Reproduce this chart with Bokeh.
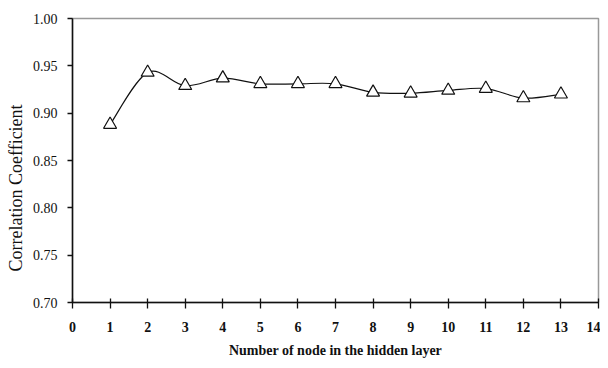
import numpy as np
from bokeh.plotting import figure
from bokeh.models import Range1d, FixedTicker, Title, NumeralTickFormatter
from bokeh.embed import file_html
from bokeh.resources import INLINE

nodes = [1, 2, 3, 4, 5, 6, 7, 8, 9, 10, 11, 12, 13]
corr = [0.888, 0.943, 0.929, 0.937, 0.931, 0.931, 0.931, 0.922, 0.921, 0.924, 0.926, 0.916, 0.920]
x_ticks = list(range(0, 15))
y_ticks = [0.70, 0.75, 0.80, 0.85, 0.90, 0.95, 1.00]

p = figure(width=600, height=360, output_backend="svg", toolbar_location=None,
           x_range=Range1d(0, 14), y_range=Range1d(0.70, 1.00),
           min_border_left=0, min_border_right=2, min_border_top=18, min_border_bottom=0)
p.background_fill_color = "white"
p.border_fill_color = "white"
p.outline_line_color = "#999999"
p.outline_line_width = 1.5
p.grid.visible = False

# smoothed curve (Bezier segments through the data points)
x = np.array(nodes, dtype=float)
y = np.array(corr, dtype=float)
n = len(x)
xp = np.concatenate([[x[0]], x, [x[-1]]])
yp = np.concatenate([[y[0]], y, [y[-1]]])
x0, y0, x1, y1, cx0, cy0, cx1, cy1 = [], [], [], [], [], [], [], []
for i in range(n - 1):
    j = i + 1
    x0.append(xp[j]); y0.append(yp[j])
    x1.append(xp[j + 1]); y1.append(yp[j + 1])
    cx0.append(xp[j] + (xp[j + 1] - xp[j - 1]) / 6)
    cy0.append(yp[j] + (yp[j + 1] - yp[j - 1]) / 6)
    cx1.append(xp[j + 1] - (xp[j + 2] - xp[j]) / 6)
    cy1.append(yp[j + 1] - (yp[j + 2] - yp[j]) / 6)
p.bezier(x0=x0, y0=y0, x1=x1, y1=y1, cx0=cx0, cy0=cy0, cx1=cx1, cy1=cy1,
         line_color="#111111", line_width=1.2)

p.scatter(nodes, corr, marker="triangle", size=13, fill_color="white",
          line_color="#111111", line_width=1.2)

for ax in (p.xaxis[0], p.yaxis[0]):
    ax.axis_line_color = "#111111"
    ax.axis_line_width = 1.5
    ax.major_tick_line_color = "#111111"
    ax.major_tick_line_width = 1.3
    ax.minor_tick_line_color = None
    ax.major_label_text_font = "Liberation Serif"
    ax.major_label_text_color = "#111111"

p.xaxis.ticker = FixedTicker(ticks=x_ticks)
p.xaxis.major_tick_in = 4
p.xaxis.major_tick_out = 6
p.xaxis.major_label_standoff = 13
p.xaxis.major_label_text_font_size = "14px"
p.xaxis.major_label_text_font_style = "bold"
p.xaxis.axis_label = "Number of node in the hidden layer"
p.xaxis.axis_label_text_font = "Liberation Serif"
p.xaxis.axis_label_text_font_size = "14px"
p.xaxis.axis_label_text_font_style = "bold"
p.xaxis.axis_label_text_color = "#111111"
p.xaxis.axis_label_standoff = 8

p.yaxis.ticker = FixedTicker(ticks=y_ticks)
p.yaxis.formatter = NumeralTickFormatter(format="0.00")
p.yaxis.major_tick_in = 0
p.yaxis.major_tick_out = 5
p.yaxis.major_label_standoff = 10
p.yaxis.major_label_text_font_size = "14px"

ytitle = Title(text="Correlation Coefficient", align="left", offset=31,
               text_font="Liberation Serif", text_font_size="18px",
               text_font_style="normal", text_color="#111111", standoff=7)
p.add_layout(ytitle, "left")

open("out.html", "w").write(file_html(p, INLINE))
